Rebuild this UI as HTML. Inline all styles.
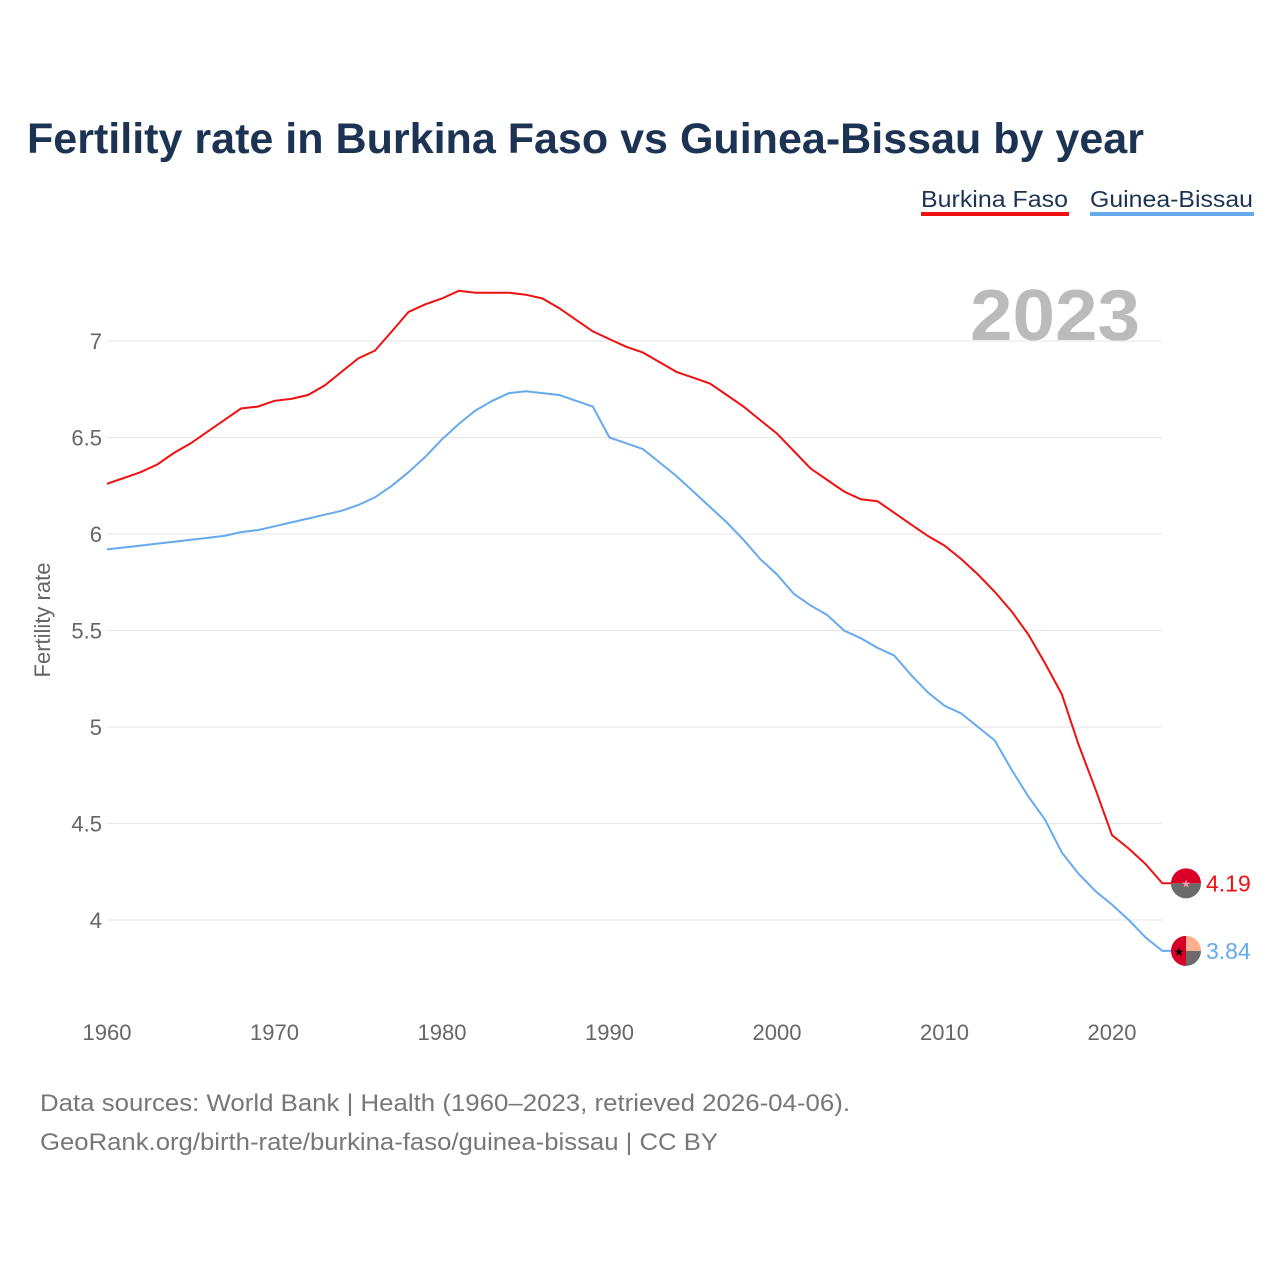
<!DOCTYPE html>
<html><head><meta charset="utf-8"><style>
body{margin:0;background:#fff;width:1280px;height:1280px;overflow:hidden;font-family:"Liberation Sans",sans-serif}
</style></head><body>
<svg id="chart" width="1280" height="1280" xmlns="http://www.w3.org/2000/svg" font-family="Liberation Sans, sans-serif">
<text x="27" y="153" font-size="43" font-weight="bold" fill="#1c3353" textLength="1117" lengthAdjust="spacingAndGlyphs">Fertility rate in Burkina Faso vs Guinea-Bissau by year</text>
<g><text x="921" y="207" font-size="23" fill="#1c3353" textLength="147" lengthAdjust="spacingAndGlyphs">Burkina Faso</text><rect x="921" y="212" width="148" height="4" fill="#ee1111"/></g>
<g><text x="1090" y="207" font-size="23" fill="#1c3353" textLength="163" lengthAdjust="spacingAndGlyphs">Guinea-Bissau</text><rect x="1090" y="212" width="164" height="4" fill="#66aaee"/></g>
<text x="1140" y="340" font-size="72" font-weight="bold" fill="#bbbbbb" text-anchor="end" textLength="170" lengthAdjust="spacingAndGlyphs">2023</text>
<text transform="translate(50,620) rotate(-90)" font-size="22" fill="#666" text-anchor="middle">Fertility rate</text>
<g id="grid"></g><g id="series"></g>
<text x="40" y="1111" font-size="24" fill="#777" textLength="810" lengthAdjust="spacingAndGlyphs">Data sources: World Bank | Health (1960–2023, retrieved 2026-04-06).</text>
<text x="40" y="1150" font-size="24" fill="#777" textLength="678" lengthAdjust="spacingAndGlyphs">GeoRank.org/birth-rate/burkina-faso/guinea-bissau | CC BY</text>
</svg>
<script>
const years=[];for(let y=1960;y<=2023;y++)years.push(y);
const burkina=[6.26,6.29,6.32,6.36,6.42,6.47,6.53,6.59,6.65,6.66,6.69,6.70,6.72,6.77,6.84,6.91,6.95,7.05,7.15,7.19,7.22,7.26,7.25,7.25,7.25,7.24,7.22,7.17,7.11,7.05,7.01,6.97,6.94,6.89,6.84,6.81,6.78,6.72,6.66,6.59,6.52,6.43,6.34,6.28,6.22,6.18,6.17,6.11,6.05,5.99,5.94,5.87,5.79,5.70,5.60,5.48,5.33,5.17,4.91,4.68,4.44,4.37,4.29,4.19];
const guinea=[5.92,5.93,5.94,5.95,5.96,5.97,5.98,5.99,6.01,6.02,6.04,6.06,6.08,6.10,6.12,6.15,6.19,6.25,6.32,6.40,6.49,6.57,6.64,6.69,6.73,6.74,6.73,6.72,6.69,6.66,6.50,6.47,6.44,6.37,6.30,6.22,6.14,6.06,5.97,5.87,5.79,5.69,5.63,5.58,5.50,5.46,5.41,5.37,5.27,5.18,5.11,5.07,5.00,4.93,4.78,4.64,4.52,4.35,4.24,4.15,4.08,4.00,3.91,3.84];
const yTicks=[4,4.5,5,5.5,6,6.5,7];
const xTicks=[1960,1970,1980,1990,2000,2010,2020];
const NS="http://www.w3.org/2000/svg";
const X=y=>107+(y-1960)*16.75, Y=v=>920-(v-4)*193;
const grid=document.getElementById('grid'), ser=document.getElementById('series');
function mk(tag,attrs,parent){const e=document.createElementNS(NS,tag);for(const k in attrs)e.setAttribute(k,attrs[k]);parent.appendChild(e);return e;}
yTicks.forEach(t=>{
 const l=mk('line',{x1:107,x2:1162,y1:Y(t),y2:Y(t),stroke:'#e6e6e6','stroke-width':1},grid);
 
 
 const tx=mk('text',{x:102,y:Y(t)+8,'font-size':22,fill:'#666','text-anchor':'end'},grid);tx.textContent=t;
 
 
});
xTicks.forEach(t=>{
 const tx=mk('text',{x:X(t),y:1040,'font-size':22,fill:'#666','text-anchor':'middle'},grid);tx.textContent=t;
 
 
});
function line(vals,color,name){
 const d=vals.map((v,i)=>(i?'L':'M')+X(years[i]).toFixed(1)+','+Y(v).toFixed(1)).join(' ')+' L1172,'+Y(vals[vals.length-1]).toFixed(1);
 const p=mk('path',{d:d,fill:'none',stroke:color,'stroke-width':2},ser);
 
 
}
line(burkina,'#ee1111','burkina-faso-line');
line(guinea,'#66aaee','guinea-bissau-line');
const by=Y(burkina[63]), gy=Y(guinea[63]), fx=1186;
const f1=mk('g',{},ser);


mk('path',{d:`M${fx-15},${by} A15,15 0 0 1 ${fx+15},${by} Z`,fill:'#d80027'},f1);
mk('path',{d:`M${fx-15},${by} A15,15 0 0 0 ${fx+15},${by} Z`,fill:'#6b6b6b'},f1);
mk('text',{x:fx,y:by+4,'font-size':11,fill:'#f9a','text-anchor':'middle'},f1).textContent='★';
const f2=mk('g',{},ser);


mk('path',{d:`M${fx},${gy-15} A15,15 0 0 1 ${fx+15},${gy} L${fx},${gy} Z`,fill:'#ffb08a'},f2);
mk('path',{d:`M${fx+15},${gy} A15,15 0 0 1 ${fx},${gy+15} L${fx},${gy} Z`,fill:'#6b6b6b'},f2);
mk('path',{d:`M${fx},${gy-15} A15,15 0 0 0 ${fx},${gy+15} Z`,fill:'#d80027'},f2);
mk('text',{x:fx-7,y:gy+5,'font-size':12,fill:'#000','text-anchor':'middle'},f2).textContent='★';
const l1=mk('text',{x:1206,y:by+8,'font-size':23,fill:'#ee1111'},ser);l1.textContent=burkina[63].toFixed(2);


const l2=mk('text',{x:1206,y:gy+8,'font-size':23,fill:'#66aaee'},ser);l2.textContent=guinea[63].toFixed(2);


</script>
</body></html>
